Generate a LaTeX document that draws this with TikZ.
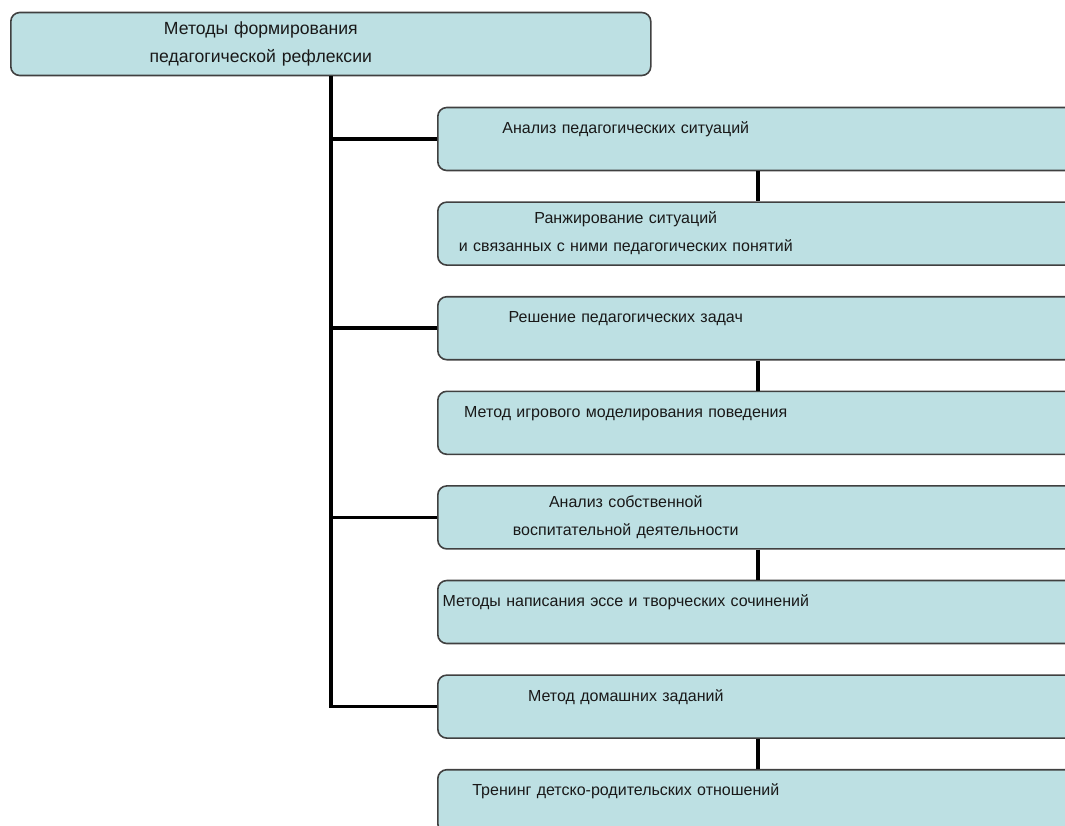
\documentclass[tikz,border=0pt]{standalone}
\usepackage{fontspec}
\setmainfont{Liberation Sans}
\usetikzlibrary{positioning}
\definecolor{boxfill}{RGB}{189,224,227}
\definecolor{boxline}{RGB}{64,64,64}
\newcommand{\boxtext}[2]{\noindent\parbox{#1}{\centering #2}}
\tikzset{
    %Define style for boxes
    methodbox/.style={
           rectangle,
           rounded corners=9pt,
           draw=boxline, line width=1.6pt,
           fill=boxfill,
           text width=640pt,
           minimum height=63pt,
           inner xsep=0pt,
           align=left,
           font=\fontsize{16}{28}\selectfont,
           text=black!90},
    % Define line style
    link/.style={
           line width=3.5pt,
           black}
}
\begin{document}
\begin{tikzpicture}[x=1pt,y=1pt,node distance=30pt]
\useasboundingbox (0,0) rectangle (1065,-825);
\clip (0,0) rectangle (1065,-825);
 %nodes
\node[methodbox, anchor=west, font=\fontsize{17.6}{28}\selectfont] (0) at (10,-44)
    {\boxtext{500pt}{Методы формирования\\педагогической рефлексии}};
\node[methodbox, anchor=west] (1) at (437,-139)
    {\boxtext{376pt}{Анализ педагогических ситуаций\\[-14pt]\strut}};
\node[methodbox, below=of 1] (2)
    {\boxtext{376pt}{Ранжирование ситуаций\\и связанных с ними педагогических понятий}};
\node[methodbox, below=of 2] (3)
    {\boxtext{376pt}{Решение педагогических задач\\[-14pt]\strut}};
\node[methodbox, below=of 3] (4)
    {\boxtext{376pt}{Метод игрового моделирования поведения\\[-14pt]\strut}};
\node[methodbox, below=of 4] (5)
    {\boxtext{376pt}{Анализ собственной\\воспитательной деятельности}};
\node[methodbox, below=of 5] (6)
    {\boxtext{376pt}{Методы написания эссе и творческих сочинений\\[-14pt]\strut}};
\node[methodbox, below=of 6] (7)
    {\boxtext{376pt}{Метод домашних заданий\\[-14pt]\strut}};
\node[methodbox, below=of 7] (8)
    {\boxtext{376pt}{Тренинг детско-родительских отношений\\[-14pt]\strut}};
 %links
\draw[link] (0.south) |- (1.west);
\draw[link] (0.south) |- (3.west);
\draw[link] (0.south) |- (5.west);
\draw[link] (0.south) |- (7.west);
\path[link]
    (1) edge (2)
    (3) edge (4)
    (5) edge (6)
    (7) edge (8);
\end{tikzpicture}
\end{document}
